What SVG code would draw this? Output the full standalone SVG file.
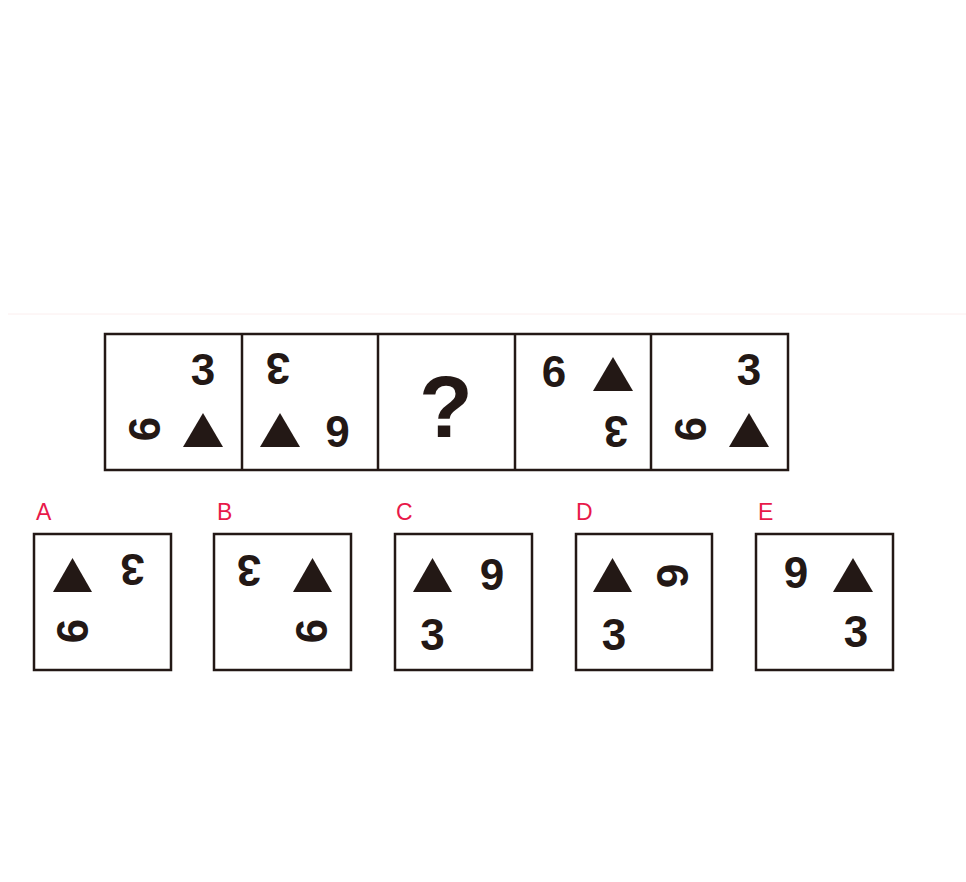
<svg xmlns="http://www.w3.org/2000/svg" width="966" height="882" viewBox="0 0 966 882">
<style>
.bx{fill:none;stroke:#231815;stroke-width:2.5}
.d{font-family:"Liberation Sans",Arial,sans-serif;font-weight:bold;font-size:44px;fill:#231815;text-anchor:middle}
.t{fill:#231815}
.lb{font-family:"Liberation Sans",Arial,sans-serif;font-size:23px;fill:#e8194a}
</style>
<rect width="966" height="882" fill="#ffffff"/>
<line x1="8" y1="314" x2="966" y2="314" stroke="#fbeeee" stroke-width="1"/>
<g id="sequence">
<rect class="bx" x="105" y="334" width="683" height="136"/>
<line class="bx" x1="242" y1="334" x2="242" y2="470"/>
<line class="bx" x1="378" y1="334" x2="378" y2="470"/>
<line class="bx" x1="515" y1="334" x2="515" y2="470"/>
<line class="bx" x1="651" y1="334" x2="651" y2="470"/>
</g>
<g id="cell1">
<text class="d" x="203" y="385">3</text>
<text class="d" transform="translate(144.5,429) rotate(-90)" x="0" y="15.8">6</text>
<polygon class="t" points="183,447 203,413 223,447"/>
</g>
<g id="cell2">
<text class="d" transform="translate(278,369) rotate(180)" x="0" y="15.8">3</text>
<polygon class="t" points="260,447 280,413 300,447"/>
<text class="d" transform="translate(337.5,431.5) rotate(180)" x="0" y="15.8">6</text>
</g>
<g id="cell3">
<text class="d" x="446" y="437" style="font-size:88px">?</text>
</g>
<g id="cell4">
<text class="d" x="554" y="387">6</text>
<polygon class="t" points="593,391 613,357 633,391"/>
<text class="d" transform="translate(616,431.5) rotate(180)" x="0" y="15.8">3</text>
</g>
<g id="cell5">
<text class="d" x="749" y="385">3</text>
<text class="d" transform="translate(690,429) rotate(-90)" x="0" y="15.8">6</text>
<polygon class="t" points="729,447 749,413 769,447"/>
</g>
<g id="optA">
<text class="lb" x="36" y="520">A</text>
<rect class="bx" x="34" y="534" width="137" height="136"/>
<polygon class="t" points="53,592 72.5,558 92,592"/>
<text class="d" transform="translate(132.5,570) rotate(180)" x="0" y="15.8">3</text>
<text class="d" transform="translate(72.5,631) rotate(-90)" x="0" y="15.8">6</text>
</g>
<g id="optB">
<text class="lb" x="217" y="520">B</text>
<rect class="bx" x="214" y="534" width="137" height="136"/>
<text class="d" transform="translate(249,571) rotate(180)" x="0" y="15.8">3</text>
<polygon class="t" points="293,592 312.5,558 332,592"/>
<text class="d" transform="translate(311,631) rotate(-90)" x="0" y="15.8">6</text>
</g>
<g id="optC">
<text class="lb" x="396" y="520">C</text>
<rect class="bx" x="395" y="534" width="137" height="136"/>
<polygon class="t" points="413,592 432.5,558 452,592"/>
<text class="d" x="492" y="590">9</text>
<text class="d" x="432.5" y="650">3</text>
</g>
<g id="optD">
<text class="lb" x="576" y="520">D</text>
<rect class="bx" x="576" y="534" width="136" height="136"/>
<polygon class="t" points="593,592 612.5,558 632,592"/>
<text class="d" transform="translate(672.5,576) rotate(90)" x="0" y="15.8">6</text>
<text class="d" x="614" y="650">3</text>
</g>
<g id="optE">
<text class="lb" x="758" y="520">E</text>
<rect class="bx" x="756" y="534" width="137" height="136"/>
<text class="d" x="796" y="588">9</text>
<polygon class="t" points="833,592 853,558 873,592"/>
<text class="d" x="856" y="647">3</text>
</g>
</svg>
